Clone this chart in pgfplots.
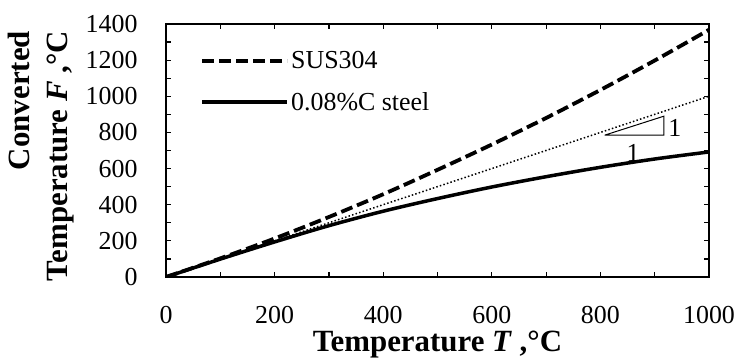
\documentclass[border=0pt]{standalone}
\usepackage{pgfplots}
\pgfplotsset{compat=1.18}
\usepackage{fontspec}
\setmainfont{Liberation Serif}
\begin{document}
\begin{tikzpicture}
\useasboundingbox (-166bp,-83bp) rectangle (573bp,277bp);
\begin{axis}[
  at={(0,0)}, anchor=south west,
  scale only axis=true,
  width=543bp, height=253bp,
  xmin=0, xmax=1000, ymin=0, ymax=1400,
  xtick={0,200,...,1000}, minor xtick={100,300,...,900},
  ytick={0,200,...,1400}, minor ytick={100,300,...,1300},
  tick align=inside,
  major tick length=5bp, minor tick length=5bp,
  every tick/.style={black, line width=1.2bp},
  axis line style={line width=1.5bp},
  /pgf/number format/assume math mode=true,
  /pgf/number format/1000 sep={},
  tick label style={font=\fontsize{26}{30}\selectfont},
  xticklabel style={yshift=-26bp},
  yticklabel style={xshift=-25bp},
  xlabel={\textbf{Temperature \textit{T} ,°C}},
  ylabel={\textbf{Converted}\\\textbf{Temperature \textit{F} ,°C}},
  xlabel style={font=\fontsize{31}{36}\selectfont, at={(axis description cs:0.5,0)}, anchor=center, yshift=-68bp},
  ylabel style={font=\fontsize{31}{38}\selectfont, align=right, rotate=0, at={(axis description cs:-0.23,0.478)}, anchor=center},
  legend style={draw=none, fill=none, at={(axis description cs:0.063,0.90)}, anchor=north west, inner sep=0pt,
    font=\fontsize{26}{30}\selectfont, row sep=18bp, cells={anchor=west}},
  legend image code/.code={\draw[#1] (0bp,0bp) -- (85bp,0bp);},
]
\addplot[black, line width=1.5bp, dash pattern=on 1.5bp off 2.2bp, forget plot] coordinates {(0,0) (1000,1000)};
\addplot[black, line width=3.8bp, dash pattern=on 12bp off 5bp, smooth] coordinates {
(0,0) (100,103) (200,213) (300,332) (400,458) (500,593) (600,733) (700,880) (800,1035) (900,1198) (1000,1368)};
\addlegendentry{SUS304}
\addplot[black, line width=3.5bp, smooth] coordinates {
(0,0) (100,99) (200,194) (300,284) (400,364) (500,434) (600,498) (700,555) (800,607) (900,653) (1000,692)};
\addlegendentry{0.08\%C steel}
\addplot[black, line width=1bp, forget plot] coordinates {(808,785) (917,785) (917,890) (808,785)};
\node[font=\fontsize{26}{30}\selectfont] at (axis cs:937,826) {1};
\node[font=\fontsize{26}{30}\selectfont] at (axis cs:860,685) {1};
\end{axis}
\end{tikzpicture}
\end{document}
